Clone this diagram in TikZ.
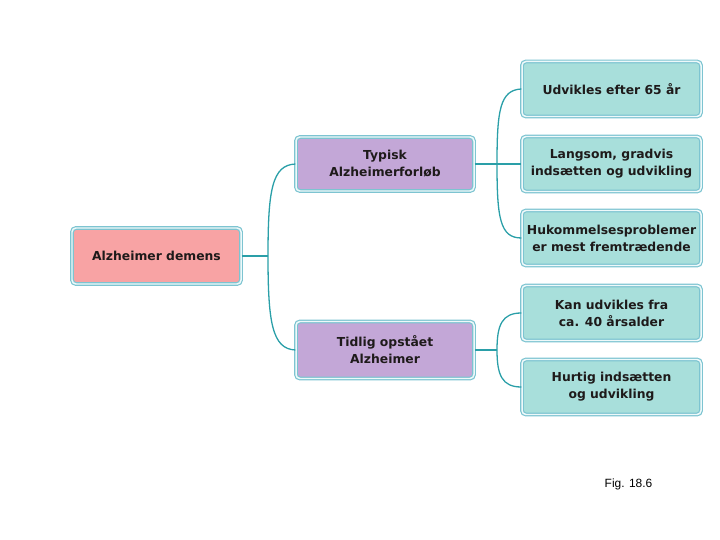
\documentclass[tikz,border=0pt]{standalone}
\usepackage{fontspec}
\setmainfont{DejaVu Sans}
\newfontfamily\figfont{Liberation Sans}
\definecolor{edgeC}{HTML}{7DC4D1}
\definecolor{gapC}{HTML}{EEF9FA}
\definecolor{linkC}{HTML}{2A9FA8}
\definecolor{tealF}{HTML}{A8DFDB}
\definecolor{purpF}{HTML}{C3A7D7}
\definecolor{pinkF}{HTML}{F8A3A4}
\definecolor{txtC}{HTML}{1E1A1A}
\tikzset{
  box/.style={draw=edgeC, double=gapC, double distance=1.5pt, line width=1.2pt,
    rounded corners=4pt, align=center, inner sep=2pt,
    font=\fontsize{12.4}{17}\selectfont\bfseries, text=txtC},
  rootbox/.style={box, fill=pinkF, minimum width=169bp, minimum height=56bp},
  midbox/.style={box, fill=purpF, minimum width=178bp, minimum height=54bp},
  leafbox/.style={box, fill=tealF, minimum width=179bp, minimum height=55bp},
  link/.style={draw=linkC, line width=1.3pt}
}
\begin{document}
\begin{tikzpicture}[x=1bp, y=-1bp]
\useasboundingbox (0,0) rectangle (720,540);
\node[rootbox] (root) at (156.5,256) {Alzheimer demens};
\node[midbox] (typ) at (385,164) {Typisk\\Alzheimerforløb};
\node[midbox, minimum height=57bp] (tid) at (385,350) {Tidlig opstået\\Alzheimer};
\node[leafbox] (l1) at (611.5,89) {Udvikles efter 65 år};
\node[leafbox] (l2) at (611.5,164) {Langsom, gradvis\\indsætten og udvikling};
\node[leafbox] (l3) at (611.5,238) {Hukommelsesproblemer\\er mest fremtrædende};
\node[leafbox] (l4) at (611.5,313) {Kan udvikles fra\\ca. 40 årsalder};
\node[leafbox] (l5) at (611.5,387) {Hurtig indsætten\\og udvikling};
\node[font=\figfont\fontsize{12}{14}\selectfont, text=black] (fig) at (628.5,484) {Fig. 18.6};
% junctions
\coordinate (j0) at (268,256);
\coordinate (j1) at (497,164);
\coordinate (j2) at (497,350);
% root to mid
\draw[link] (root.east) -- (j0);
\draw[link] (j0) .. controls (268,190) and (272,165) .. (typ.west);
\draw[link] (j0) .. controls (268,322) and (272,349) .. (tid.west);
% typisk to leaves
\draw[link] (typ.east) -- (l2.west);
\draw[link] (j1) .. controls (497,110) and (500,90) .. (l1.west);
\draw[link] (j1) .. controls (497,218) and (500,238) .. (l3.west);
% tidlig to leaves
\draw[link] (tid.east) -- (j2);
\draw[link] (j2) .. controls (497,325) and (502,313) .. (l4.west);
\draw[link] (j2) .. controls (497,375) and (502,387) .. (l5.west);
\end{tikzpicture}
\end{document}
